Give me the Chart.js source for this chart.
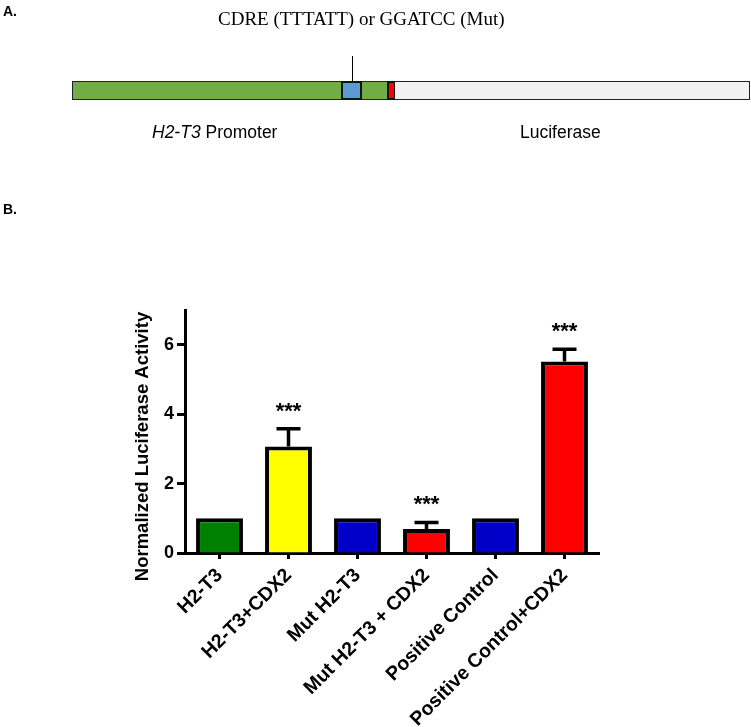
<!DOCTYPE html>
<html>
<head>
<meta charset="utf-8">
<script src="https://cdn.jsdelivr.net/npm/chart.js@4.4.1/dist/chart.umd.min.js"></script>
<style>
  body { margin: 0; background: #fff; }
  .page { position: relative; width: 751px; height: 727px; overflow: hidden; font-family: "Liberation Sans", Arial, sans-serif; }
  .page canvas { position: absolute; left: 0; top: 0; }
  .abs { position: absolute; white-space: nowrap; }
  .panel-label { font-weight: bold; font-size: 14px; }
  .site-title { font-family: "Liberation Serif", "Times New Roman", serif; font-size: 19px; }
  .part { position: absolute; box-sizing: border-box; }
</style>
</head>
<body>
<div class="page">
  <canvas id="chart" width="751" height="727"></canvas>

  <!-- panel A: construct diagram -->
  <div class="abs panel-label" style="left:3px; top:3px;">A.</div>
  <div class="abs site-title" style="left:218px; top:8px;">CDRE (TTTATT) or GGATCC (Mut)</div>
  <div class="part" style="left:352px; top:56px; width:1px; height:26px; background:#000;"></div>
  <div class="part" style="left:72px; top:81px; width:316px; height:19px; background:#70ad47; border:1.5px solid #222; border-right:none;"></div>
  <div class="part" style="left:341px; top:81px; width:21px; height:19px; background:#5b9bd5; border:2px solid #111;"></div>
  <div class="part" style="left:387px; top:81px; width:9px; height:19px; background:#ff0000; border:2px solid #111;"></div>
  <div class="part" style="left:395px; top:81px; width:355px; height:19px; background:#f2f2f2; border:1.5px solid #222; border-left:none;"></div>
  <div class="abs" style="left:152px; top:122px; font-size:17.5px;"><i>H2-T3</i> Promoter</div>
  <div class="abs" style="left:520px; top:122px; font-size:17.5px;">Luciferase</div>

  <div class="abs panel-label" style="left:3px; top:201px;">B.</div>
</div>

<script>
const categories = ["H2-T3", "H2-T3+CDX2", "Mut H2-T3", "Mut H2-T3 + CDX2", "Positive Control", "Positive Control+CDX2"];
const meanActivity = [1, 3.07, 1, 0.69, 1, 5.52];
const semActivity = [0, 0.51, 0, 0.19, 0, 0.35];
const significance = ["", "***", "", "***", "", "***"];
const yTickValues = [0, 2, 4, 6];
const yTitle = "Normalized Luciferase Activity";

const barColors = ["#008000", "#ffff00", "#0000c8", "#ff0000", "#0000c8", "#ff0000"];
const FONT = "'Liberation Sans', Arial, sans-serif";

// upper-only error bars with caps, plus the significance stars above them
const errorBars = {
  id: "errorBars",
  afterDatasetsDraw(chart) {
    const { ctx, scales: { y } } = chart;
    const meta = chart.getDatasetMeta(0);
    ctx.save();
    ctx.strokeStyle = "#000";
    ctx.lineWidth = 3.5;
    ctx.fillStyle = "#000";
    ctx.font = "bold 22px " + FONT;
    ctx.textAlign = "center";
    meta.data.forEach((bar, i) => {
      const err = semActivity[i];
      const top = y.getPixelForValue(meanActivity[i] + err);
      if (err > 0) {
        ctx.beginPath();
        ctx.moveTo(bar.x, bar.y);
        ctx.lineTo(bar.x, top);
        ctx.moveTo(bar.x - 12, top);
        ctx.lineTo(bar.x + 12, top);
        ctx.stroke();
      }
      if (significance[i]) {
        ctx.fillText(significance[i], bar.x, top - 11);
      }
    });
    ctx.restore();
  }
};

// y title sits a little below the middle of the axis in the original
const yAxisTitle = {
  id: "yAxisTitle",
  afterDraw(chart) {
    const { ctx, chartArea } = chart;
    ctx.save();
    ctx.translate(143, (chartArea.top + chartArea.bottom) / 2 + 15);
    ctx.rotate(-Math.PI / 2);
    ctx.font = "bold 18.5px " + FONT;
    ctx.fillStyle = "#000";
    ctx.textAlign = "center";
    ctx.textBaseline = "middle";
    ctx.fillText(yTitle, 0, 0);
    ctx.restore();
  }
};

new Chart(document.getElementById("chart"), {
  type: "bar",
  data: {
    labels: categories,
    datasets: [{
      data: meanActivity,
      backgroundColor: barColors,
      borderColor: "#000",
      borderWidth: 4,
      categoryPercentage: 1,
      barPercentage: 0.68
    }]
  },
  options: {
    responsive: false,
    animation: false,
    layout: { padding: { left: 120, top: 310, right: 152, bottom: 0 } },
    plugins: { legend: { display: false }, tooltip: { enabled: false } },
    scales: {
      x: {
        afterFit: scale => { scale.height = 174; },
        border: { display: true, width: 3, color: "#000" },
        grid: { offset: false, drawOnChartArea: false, tickLength: 6, tickWidth: 3, color: "#000" },
        ticks: {
          color: "#000",
          minRotation: 45,
          maxRotation: 45,
          padding: 5,
          font: { family: FONT, size: 19.5, weight: "bold" }
        }
      },
      y: {
        min: 0,
        max: 7,
        afterFit: scale => { scale.width = 65; },
        afterBuildTicks: scale => { scale.ticks = yTickValues.map(v => ({ value: v })); },
        border: { display: true, width: 3, color: "#000" },
        grid: { drawOnChartArea: false, tickLength: 8, tickWidth: 3, color: "#000" },
        ticks: {
          color: "#000",
          padding: 3,
          font: { family: FONT, size: 18, weight: "bold" }
        }
      }
    }
  },
  plugins: [errorBars, yAxisTitle]
});
</script>
</body>
</html>
